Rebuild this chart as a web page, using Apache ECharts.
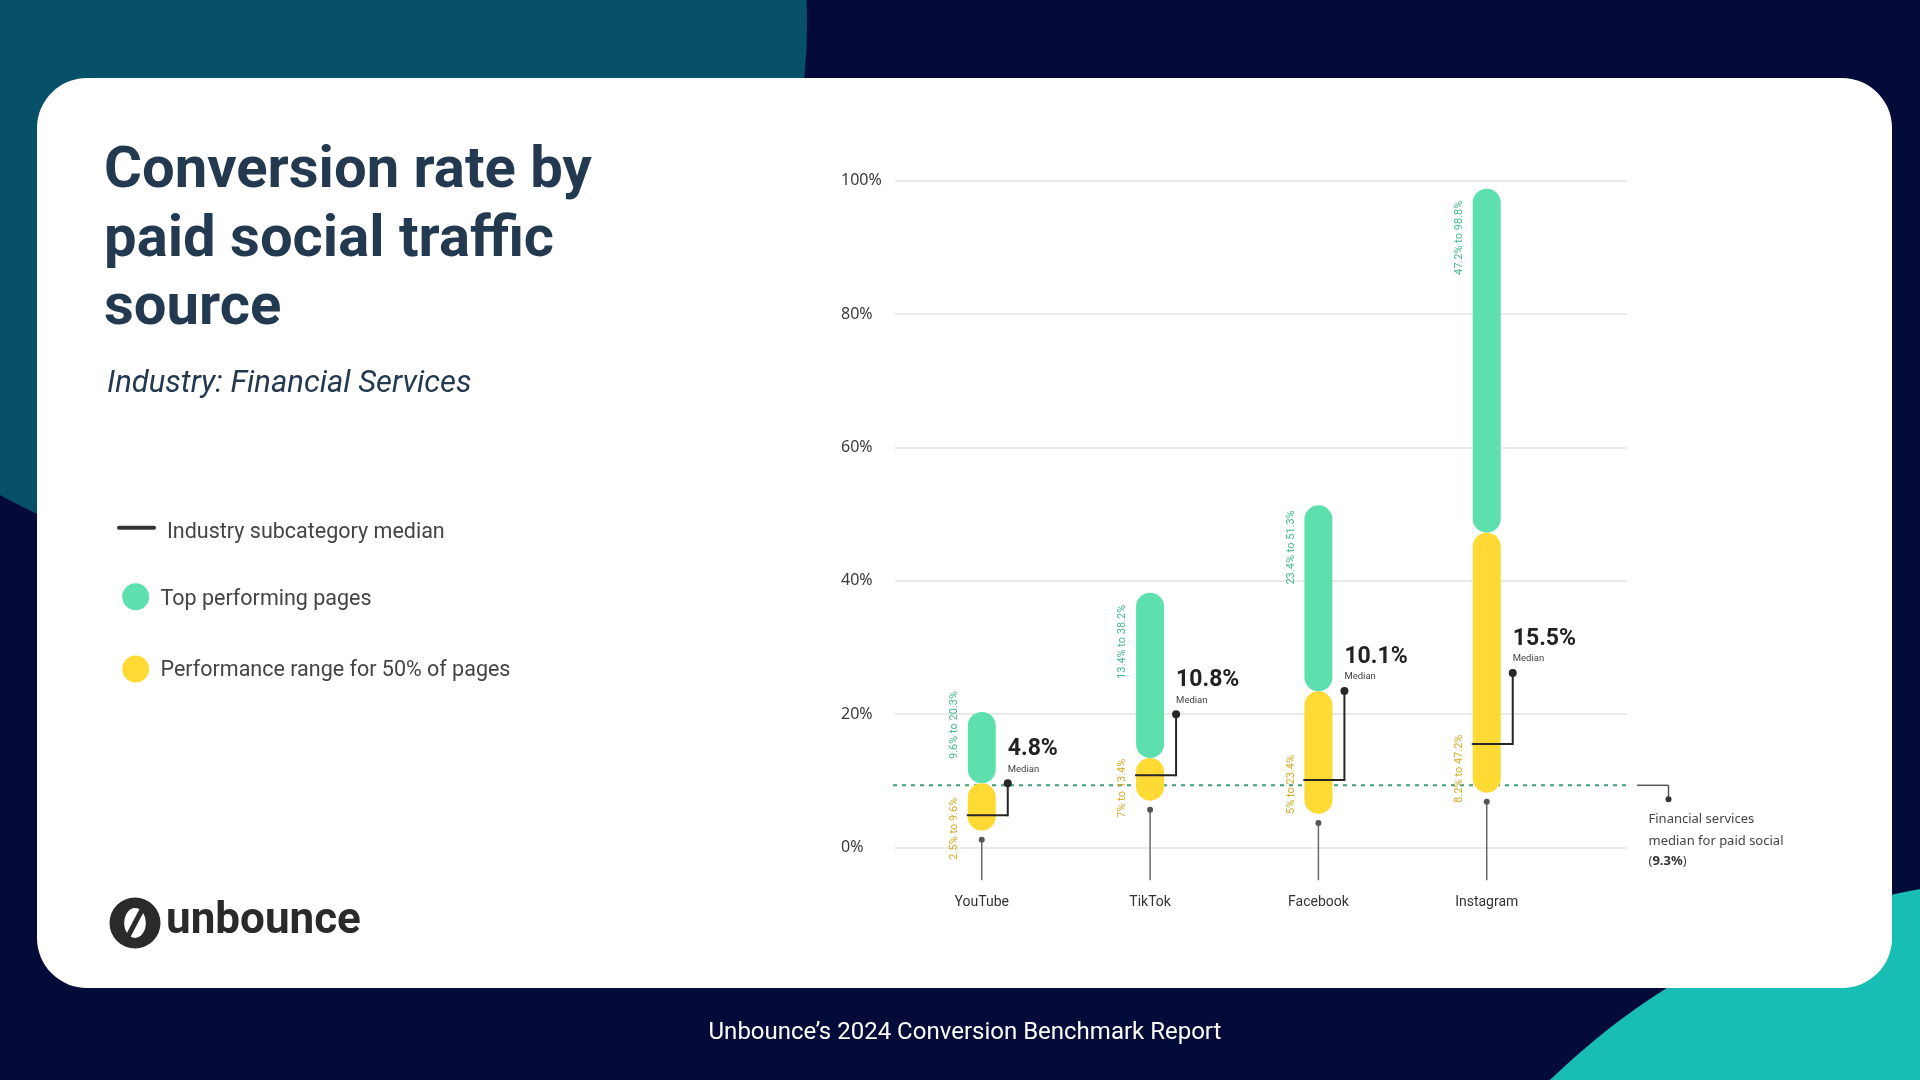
<!DOCTYPE html>
<html><head><meta charset="utf-8">
<script src="https://cdn.jsdelivr.net/npm/echarts@6/dist/echarts.min.js"></script>
<style>html,body{margin:0;padding:0;background:#040b38;}#c{width:1920px;height:1080px;}</style>
</head><body><div id="c"></div>
<script>
// ---------- data ----------
const categories = ['YouTube', 'TikTok', 'Facebook', 'Instagram'];
const rangeLow   = [2.5, 7, 5, 8.2];        // bottom of 50% range
const rangeMid   = [9.6, 13.4, 23.4, 47.2]; // top of 50% range / start of top performers
const rangeHigh  = [20.3, 38.2, 51.3, 98.8]; // top performers upper bound
const medians    = [4.8, 10.8, 10.1, 15.5];
const industryMedian = [9.3];
const yTickMin = 0, yTickMax = 100, yTickStep = 20;

// ---------- layout / style ----------
const calloutRise = [32, 61, 89, 71];
const greenLabelShift = [-21, 12, 5, 12];
const yellowLabelShift = [29, 17, 0, 10];
const GREEN = '#5ee0ae', YELLOW = '#ffd934';
const GREEN_TEXT = '#45b98b', YELLOW_TEXT = '#d4ab24';

function txt(o) {
  const s = o.style;
  if (s.align) s.textAlign = s.align;
  if (s.verticalAlign) s.textVerticalAlign = s.verticalAlign;
  return o;
}

function renderPill(params, api) {
  const i = api.value(0);
  const lo = api.value(1), mid = api.value(2), hi = api.value(3), med = api.value(4);
  const pLo = api.coord([i, lo]), pMid = api.coord([i, mid]);
  const pHi = api.coord([i, hi]), pMed = api.coord([i, med]);
  const cs = params.coordSys;
  const cx = pLo[0];
  const w = 28, r = w / 2;
  const axisBottom = cs.y + cs.height;
  const dotY = pMed[1] - calloutRise[i];
  const elbowX = cx + r + 12;
  const labelX = cx - r - 13.5;
  return {
    type: 'group',
    children: [
      {type: 'line', shape: {x1: cx, y1: pLo[1] + 9, x2: cx, y2: axisBottom + 33}, style: {stroke: '#6b6b6b', lineWidth: 1.5}},
      {type: 'circle', shape: {cx: cx, cy: pLo[1] + 9, r: 3}, style: {fill: '#555'}},
      {type: 'rect', shape: {x: cx - r, y: pMid[1], width: w, height: pLo[1] - pMid[1], r: r}, style: {fill: YELLOW}},
      {type: 'rect', shape: {x: cx - r, y: pHi[1], width: w, height: pMid[1] - pHi[1], r: r}, style: {fill: GREEN}},
      {type: 'line', shape: {x1: cx - r - 1, y1: pMed[1], x2: elbowX, y2: pMed[1]}, style: {stroke: '#262626', lineWidth: 2}},
      {type: 'line', shape: {x1: elbowX, y1: pMed[1] + 1, x2: elbowX, y2: dotY}, style: {stroke: '#262626', lineWidth: 2}},
      {type: 'circle', shape: {cx: elbowX, cy: dotY, r: 4}, style: {fill: '#262626'}},
      txt({type: 'text', x: elbowX, y: dotY - 34, style: {text: med.toFixed(1) + '%', fill: '#222', fontSize: 23, fontWeight: 'bold', fontFamily: 'Roboto', align: 'left', verticalAlign: 'middle'}}),
      txt({type: 'text', x: elbowX, y: dotY - 14, style: {text: 'Median', fill: '#444', fontSize: 9.5, fontFamily: 'Roboto', align: 'left', verticalAlign: 'middle'}}),
      txt({type: 'text', x: labelX, y: pHi[1] + greenLabelShift[i], rotation: Math.PI / 2, style: {text: mid + '% to ' + hi + '%', fill: GREEN_TEXT, fontSize: 11, fontFamily: 'Roboto', align: 'right', verticalAlign: 'middle'}}),
      txt({type: 'text', x: labelX, y: pLo[1] + yellowLabelShift[i], rotation: Math.PI / 2, style: {text: lo + '% to ' + mid + '%', fill: YELLOW_TEXT, fontSize: 11, fontFamily: 'Roboto', align: 'left', verticalAlign: 'middle'}})
    ]
  };
}

function renderIndustry(params, api) {
  const v = api.value(1);
  const p = api.coord([0, v]);
  const cs = params.coordSys;
  const y = p[1];
  const xEnd = cs.x + cs.width;
  const elbow = xEnd + 41.5;
  const font = {fontSize: 13, fontFamily: 'Noto Sans', fill: '#444', align: 'left', verticalAlign: 'middle'};
  return {
    type: 'group',
    children: [
      {type: 'line', shape: {x1: cs.x - 2, y1: y, x2: xEnd, y2: y}, style: {stroke: '#3d9f79', lineWidth: 2, lineDash: [4, 5]}},
      {type: 'line', shape: {x1: xEnd + 10, y1: y, x2: elbow, y2: y}, style: {stroke: '#555', lineWidth: 1.5}},
      {type: 'line', shape: {x1: elbow, y1: y, x2: elbow, y2: y + 14}, style: {stroke: '#555', lineWidth: 1.5}},
      {type: 'circle', shape: {cx: elbow, cy: y + 14, r: 3}, style: {fill: '#333'}},
      txt({type: 'text', x: xEnd + 21.5, y: y + 34, style: Object.assign({text: 'Financial services'}, font)}),
      txt({type: 'text', x: xEnd + 21.5, y: y + 55.5, style: Object.assign({text: 'median for paid social'}, font)}),
      txt({type: 'text', x: xEnd + 21.5, y: y + 76, style: Object.assign({text: '({b|' + v + '%})', rich: {b: {fontWeight: 'bold', fontSize: 13, fontFamily: 'Noto Sans', fill: '#333', color: '#333'}}}, font)})
    ]
  };
}

const chart = echarts.init(document.getElementById('c'), null, {renderer: 'canvas'});

const titleStyle = {fill: '#233950', fontSize: 58, fontWeight: 'bold', fontFamily: 'Roboto', align: 'left', verticalAlign: 'middle'};
const legendStyle = {fill: '#444', fontSize: 21.5, fontFamily: 'Roboto', align: 'left', verticalAlign: 'middle'};

const graphics = [
  {type: 'circle', z: -10, shape: {cx: 266, cy: 24, r: 541}, style: {fill: '#075168'}},
  {type: 'circle', z: -10, shape: {cx: 2051, cy: 1597, r: 720}, style: {fill: '#18bdb4'}},
  {type: 'rect', z: -9, shape: {x: 37, y: 78, width: 1855, height: 910, r: 50}, style: {fill: '#ffffff'}},
  txt({type: 'text', z: 10, x: 104, y: 172.5, style: Object.assign({text: 'Conversion rate by'}, titleStyle)}),
  txt({type: 'text', z: 10, x: 104, y: 241, style: Object.assign({text: 'paid social traffic'}, titleStyle)}),
  txt({type: 'text', z: 10, x: 104, y: 309.5, style: Object.assign({text: 'source'}, titleStyle)}),
  txt({type: 'text', z: 10, x: 107, y: 384, style: {text: 'Industry: Financial Services', fill: '#233950', fontSize: 31, fontStyle: 'italic', fontFamily: 'Roboto', align: 'left', verticalAlign: 'middle'}}),
  {type: 'line', z: 10, shape: {x1: 119, y1: 527.7, x2: 154, y2: 527.7}, style: {stroke: '#333', lineWidth: 4, lineCap: 'round'}},
  txt({type: 'text', z: 10, x: 167, y: 532.5, style: Object.assign({text: 'Industry subcategory median'}, legendStyle)}),
  {type: 'circle', z: 10, shape: {cx: 135.7, cy: 596.7, r: 13.5}, style: {fill: GREEN}},
  txt({type: 'text', z: 10, x: 160.5, y: 599.5, style: Object.assign({text: 'Top performing pages'}, legendStyle)}),
  {type: 'circle', z: 10, shape: {cx: 135.7, cy: 669, r: 13.5}, style: {fill: YELLOW}},
  txt({type: 'text', z: 10, x: 160.5, y: 671, style: Object.assign({text: 'Performance range for 50% of pages'}, legendStyle)}),
  // logo
  {type: 'circle', z: 10, shape: {cx: 135, cy: 923, r: 25.5}, style: {fill: '#2a2a2a'}},
  {type: 'circle', z: 10, x: 135, y: 923, scaleX: 0.72, shape: {cx: 0, cy: 0, r: 15}, style: {fill: '#ffffff'}},
  {type: 'line', z: 10, shape: {x1: 126, y1: 940, x2: 144, y2: 906}, style: {stroke: '#2a2a2a', lineWidth: 5}},
  txt({type: 'text', z: 10, x: 166, y: 922, style: {text: 'unbounce', fill: '#2a2a2a', fontSize: 44, fontWeight: 'bold', fontFamily: 'Roboto', align: 'left', verticalAlign: 'middle'}}),
  // footer
  txt({type: 'text', z: 10, x: 965, y: 1033, style: {text: 'Unbounce\u2019s 2024 Conversion Benchmark Report', fill: '#ffffff', fontSize: 24, fontFamily: 'Roboto', align: 'center', verticalAlign: 'middle'}})
];

chart.setOption({
  backgroundColor: '#040b38',
  animation: false,
  graphic: {elements: graphics},
  grid: [
    {left: 895, right: 293, top: 180.7, bottom: 232.7},
    {left: 897.6, right: 349.1, top: 180.7, bottom: 232.7}
  ],
  xAxis: [
    {type: 'value', gridIndex: 0, min: 0, max: 1, show: false},
    {type: 'category', gridIndex: 1, data: categories, boundaryGap: true,
     axisLine: {show: false}, axisTick: {show: false}, splitLine: {show: false},
     axisLabel: {color: '#333', fontSize: 14, fontFamily: 'Roboto', margin: 48}}
  ],
  yAxis: [
    {type: 'value', gridIndex: 0, min: yTickMin, max: yTickMax, interval: yTickStep,
     axisLine: {show: false}, axisTick: {show: false},
     splitLine: {lineStyle: {color: '#e3e3e3', width: 1.5}},
     axisLabel: {formatter: '{value}%', color: '#3a3a3a', fontSize: 16, fontFamily: 'Noto Sans', align: 'left', margin: 54}},
    {type: 'value', gridIndex: 1, min: yTickMin, max: yTickMax, interval: yTickStep, show: false, splitLine: {show: false}}
  ],
  series: [
    {type: 'custom', name: 'Industry median', xAxisIndex: 0, yAxisIndex: 0, z: 1,
     data: industryMedian.map(v => [0, v]), encode: {x: 0, y: 1}, renderItem: renderIndustry, silent: true},
    {type: 'custom', name: 'Ranges', xAxisIndex: 1, yAxisIndex: 1, z: 3,
     data: categories.map((c, i) => [i, rangeLow[i], rangeMid[i], rangeHigh[i], medians[i]]),
     encode: {x: 0, y: [1, 2, 3, 4]}, renderItem: renderPill, silent: true}
  ]
});
</script>
</body></html>
